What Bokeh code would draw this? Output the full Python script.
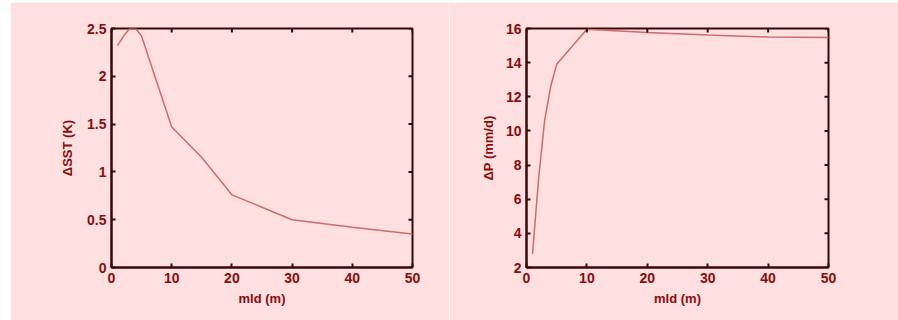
import math
from bokeh.plotting import figure
from bokeh.layouts import row, column
from bokeh.models import FixedTicker, Spacer, Range1d
from bokeh.embed import file_html
from bokeh.resources import INLINE

# Left panel: SST change vs mixed-layer depth
mld_sst = [1, 2, 3, 4, 5, 10, 15, 20, 25, 30, 40, 50]
dsst = [2.32, 2.42, 2.5, 2.5, 2.42, 1.47, 1.15, 0.76, 0.63, 0.5, 0.42, 0.35]
# Right panel: precipitation change vs mixed-layer depth
mld_p = [1, 2, 3, 4, 5, 10, 20, 30, 40, 50]
dp = [2.8, 7.2, 10.6, 12.6, 13.9, 15.95, 15.76, 15.62, 15.5, 15.47]

x_ticks = [0, 10, 20, 30, 40, 50]
sst_ticks = [0, 0.5, 1, 1.5, 2, 2.5]
p_ticks = [2, 4, 6, 8, 10, 12, 14, 16]

BG = "#fde0df"
AX = "#3a0808"
TXT = "#8a0c0c"
LINE = "#cf6a6a"
FONT = "Liberation Sans"


def style_axis(ax, ticks, label_standoff):
    ax.ticker = FixedTicker(ticks=ticks)
    ax.axis_line_color = AX
    ax.axis_line_width = 2
    ax.major_tick_line_color = AX
    ax.major_tick_line_width = 2
    ax.major_tick_in = 4
    ax.major_tick_out = 0
    ax.minor_tick_line_color = None
    ax.major_label_text_font = FONT
    ax.major_label_text_font_style = "bold"
    ax.major_label_text_color = TXT
    ax.major_label_text_font_size = "14px"
    ax.major_label_standoff = 5
    ax.axis_label_text_font = FONT
    ax.axis_label_text_font_style = "bold"
    ax.axis_label_text_color = TXT
    ax.axis_label_text_font_size = "13px"
    ax.axis_label_standoff = label_standoff


def make(xs, ys, yr, yticks, ylabel, left, fw, right, ystand):
    p = figure(frame_width=fw, frame_height=239, min_border_left=left,
               min_border_right=right, min_border_top=26, min_border_bottom=53,
               x_range=Range1d(0, 50), y_range=Range1d(*yr),
               output_backend="svg", toolbar_location=None,
               background_fill_color=BG, border_fill_color=BG)
    p.grid.visible = False
    p.outline_line_color = AX
    p.outline_line_width = 2
    p.line(xs, ys, line_color=LINE, line_width=1.5)
    p.xaxis.axis_label = "mld (m)"
    p.yaxis.axis_label = ylabel
    style_axis(p.xaxis[0], x_ticks, 5)
    style_axis(p.yaxis[0], yticks, ystand)
    # inward ticks on the top and right edges (half of each dash is clipped by the frame)
    p.scatter(x_ticks, [yr[1]] * len(x_ticks), marker="dash", size=8, angle=math.pi / 2,
              line_color=AX, line_width=2)
    p.scatter([50] * len(yticks), yticks, marker="dash", size=8,
              line_color=AX, line_width=2)
    return p


p1 = make(mld_sst, dsst, (0, 2.5), sst_ticks, "ΔSST (K)", 101, 301, 37, 9)
p2 = make(mld_p, dp, (2, 16), p_ticks, "ΔP (mm/d)", 77, 302, 70, 7)

layout = column(Spacer(height=2, width=898),
                row(Spacer(width=10, height=318), p1, p2, spacing=0), spacing=0)
p = layout
open("out.html", "w").write(file_html(p, INLINE))
